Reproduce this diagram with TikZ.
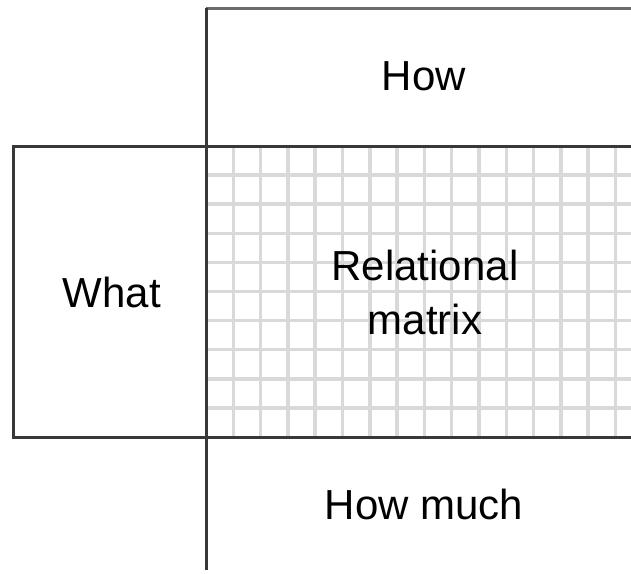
\documentclass[tikz,border=0pt]{standalone}
\usepackage{fontspec}
\setmainfont{Liberation Sans}
\begin{document}
\begin{tikzpicture}[x=1pt,y=-1pt,
  frame/.style={draw=black!78,line width=3pt},
  gridline/.style={draw=black!15,line width=3.5pt},
  lbl/.style={font=\fontsize{42}{54}\selectfont,align=center,inner sep=0pt}]
\useasboundingbox (0,0) rectangle (631,573);
% grid
\foreach \k in {1,...,15} {
  \draw[gridline] ({206+27.3*\k},146) -- ({206+27.3*\k},437);
}
\foreach \k in {1,...,9} {
  \draw[gridline] (206,{146+29.1*\k}) -- (631,{146+29.1*\k});
}
% frames
\coordinate (howtl) at (206,8);
\coordinate (howtr) at (631,8);
\coordinate (bl) at (206,570);
\draw[frame,draw=black!58] (howtl) -- (howtr);
\draw[frame] (howtl) -- (bl);
\draw[frame] (13,146) rectangle (206,437);
\draw[frame] (206,146) -- (631,146);
\draw[frame] (206,437) -- (631,437);
% labels
\node[lbl] (how) at (424,76) {How};
\node[lbl] (what) at (112,292) {What};
\node[lbl] (rel) at (425,292) {Relational\\matrix};
\node[lbl] (howmuch) at (424,504) {How much};
\end{tikzpicture}
\end{document}
